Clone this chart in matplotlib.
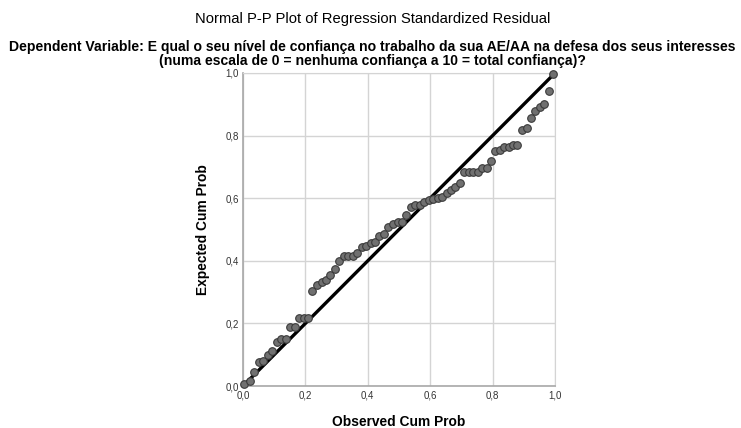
import matplotlib
matplotlib.use("Agg")
import matplotlib.pyplot as plt

plt.rcParams['font.family'] = ['Liberation Sans', 'DejaVu Sans']

observed = [0.003, 0.022, 0.036, 0.051, 0.065, 0.080, 0.094, 0.109, 0.123, 0.138,
            0.152, 0.166, 0.180, 0.195, 0.208, 0.222, 0.237, 0.252, 0.266, 0.280,
            0.295, 0.309, 0.324, 0.338, 0.352, 0.366, 0.380, 0.394, 0.409, 0.423,
            0.437, 0.452, 0.466, 0.482, 0.496, 0.510, 0.523, 0.538, 0.552, 0.567,
            0.581, 0.595, 0.609, 0.624, 0.638, 0.653, 0.667, 0.680, 0.696, 0.708,
            0.723, 0.737, 0.752, 0.766, 0.781, 0.795, 0.809, 0.824, 0.837, 0.852,
            0.865, 0.879, 0.894, 0.909, 0.923, 0.937, 0.952, 0.966, 0.981, 0.995]
expected = [0.006, 0.016, 0.046, 0.077, 0.081, 0.098, 0.111, 0.141, 0.149, 0.149,
            0.188, 0.188, 0.216, 0.216, 0.216, 0.304, 0.323, 0.331, 0.339, 0.354,
            0.374, 0.399, 0.416, 0.416, 0.416, 0.424, 0.445, 0.448, 0.456, 0.461,
            0.479, 0.485, 0.509, 0.518, 0.524, 0.524, 0.546, 0.573, 0.577, 0.579,
            0.588, 0.594, 0.596, 0.602, 0.605, 0.616, 0.626, 0.637, 0.648, 0.685,
            0.685, 0.685, 0.685, 0.697, 0.697, 0.720, 0.750, 0.754, 0.763, 0.765,
            0.770, 0.770, 0.818, 0.825, 0.856, 0.880, 0.890, 0.901, 0.943, 0.998]
ticks = [0.0, 0.2, 0.4, 0.6, 0.8, 1.0]
tick_labels = ["0,0", "0,2", "0,4", "0,6", "0,8", "1,0"]

fig = plt.figure(figsize=(7.41, 4.28), dpi=100)
ax = fig.add_axes([243 / 741, 42 / 428, 312 / 741, 313 / 428])

ax.set_xlim(0, 1)
ax.set_ylim(0, 1)
ax.set_xticks(ticks)
ax.set_yticks(ticks)
ax.set_xticklabels(tick_labels)
ax.set_yticklabels(tick_labels)
ax.tick_params(length=0, labelsize=7, colors='#333333', pad=3)
ax.grid(True, color='#d4d4d4', linewidth=1)
ax.set_axisbelow(True)
for side in ['top', 'right']:
    ax.spines[side].set_color('#d4d4d4')
for side in ['left', 'bottom']:
    ax.spines[side].set_color('#a8a8a8')
    ax.spines[side].set_linewidth(1.2)

# 参考线
ax.plot([0, 1], [0, 1], color='black', linewidth=2.4, zorder=3, clip_on=False)
ax.scatter(observed, expected, s=30, color='#707070', edgecolors='#3a3a3a',
           linewidths=0.8, zorder=4, clip_on=False)

ax.set_xlabel("Observed Cum Prob", fontsize=9.9, fontweight='bold', va='center')
ax.xaxis.set_label_coords(0.5, -0.115)
ax.set_ylabel("Expected Cum Prob", fontsize=9.9, fontweight='bold', va='center')
ax.yaxis.set_label_coords(-0.128, 0.5)

fig.text(0.503, 0.955, "Normal P-P Plot of Regression Standardized Residual",
         ha='center', va='center', fontsize=10.6)
subtitle = ("Dependent Variable: E qual o seu nível de confiança no trabalho da sua AE/AA na defesa dos seus interesses\n"
            "(numa escala de 0 = nenhuma confiança a 10 = total confiança)?")
fig.text(0.503, 0.875, subtitle, ha='center', va='center', fontsize=10.1,
         fontweight='bold', linespacing=1.0)

fig.savefig("out.png", dpi=100)
